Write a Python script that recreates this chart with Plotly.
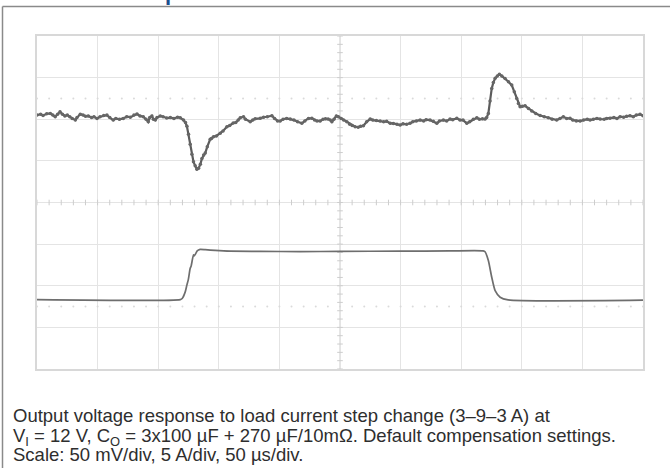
import numpy as np
import plotly.graph_objects as go

# ---- data ----
# Output voltage deviation (AC coupled), time in microseconds, value in mV
v_time = [0, 3, 5, 8, 11, 13, 15, 17, 19, 21, 23, 25, 27, 29, 31.6, 33, 35.7, 38, 40, 42.3,
          45, 47, 49.5, 52, 55, 57.7, 60, 62.9, 65, 68, 71.2, 74, 77, 80, 82.5, 85, 87.7, 90,
          91.8, 93, 94.8, 96, 97.6, 99, 101.7, 104, 107, 110, 113, 116, 118.2, 120.9, 122.5,
          123.7, 125, 126.4, 127.8, 129.1, 130.5, 131.9, 133.3, 134.8, 136.1, 137.5, 138.8,
          140.5, 142.9, 144, 145.6, 148, 151.2, 153.5, 156.7, 159, 161.9, 164, 166, 167.7,
          170.4, 172, 175.9, 178, 180, 184.2, 187, 190, 193.8, 196, 198.5, 200.6, 203, 206,
          208.9, 212, 215, 218.5, 221, 224, 226.8, 229, 231, 233.6, 236, 238, 240.2, 242,
          243.3, 245, 247, 248.7, 251, 253, 255.6, 258, 260, 262.5, 265, 267, 269.3, 272,
          274.9, 277, 280, 283.1, 286, 288.5, 291.4, 294, 297, 299.6, 302, 305, 307.8, 310,
          313, 316.1, 319, 321, 324.3, 327, 329.9, 332, 335.3, 338, 340.8, 343, 346.4, 349,
          351.5, 354.6, 357, 360, 362.9, 365, 367.5, 369.7, 371, 372.4, 373.8, 375.2, 376.5,
          378, 379.8, 381.5, 383.5, 386.2, 389, 391.7, 393.8, 395.8, 397.2, 398.6, 400.5,
          402.7, 405.5, 408.2, 411.5, 415.1, 418.5, 421.9, 425, 428.8, 431.5, 434.3, 437,
          439.8, 442, 445, 448.1, 451, 454, 456.3, 459, 462, 464.6, 468, 470, 472.8, 476,
          478.5, 481.1, 484, 486.5, 489.3, 492, 494.5, 497.6, 500]
v_mv = [5, 6, 4.5, 6.5, 7, 5, 3, 6, 9, 6, 4, 5, 3, 1, -1, 2, 6, 5, 3.5, 4,
        2, 3, 1, 3, 4.5, 5, 2, -1, 1, 0, 1, 3, 2.5, 5, 6.3, 4, 3, 0,
        -3, 2, 4, 0, -1, 2, 4, 3, 1.5, 2, 1, 2.5, 1.8, -1, -4,
        -8.5, -18, -30, -42, -51, -56, -60, -59, -54, -47, -43, -40.6,
        -33, -24, -23, -21, -20, -16.9, -14, -9, -7.5, -4.6, -4, -1, 1.8,
        3, 0, -3, -1, 0.5, 1.1, 2.5, 3, 4.2, 1, -2, -2.2, 0, 1,
        0.2, -1, -3, -4.9, -2, 1, 1.1, -1, -2, -2.2, 0, 0.5, 0.2, -1,
        -3, 0, 4, 3, 1, -1, -3, -6, -7.5, -9, -9.5, -8.5, -7.8, -3,
        0.2, -1, -1.5, -2.2, -3, -2.5, -4.9, -5, -6, -7, -5.5, -6, -4.9, -3,
        -2, -1, -2, -0.5, -1, -2.5, -4.9, -2, -1, -2, 0.2, -0.5, 1.1, -1,
        -1, -4.9, -3, 0, 1.8, 0, 0.5, 0.2, 2, 7, 22, 37, 44,
        49.2, 52, 54, 52, 49, 45, 41, 33, 25, 19, 15, 15.5,
        16.2, 13, 9.9, 7, 4.5, 3, 1.8, 0, -1, 1, 3, 1,
        1.1, -1, -2, -2.2, -1, 0, -1, 0, 1, 0.2, 0, 1, 1.1, 2,
        1, 3, 2.5, 3.5, 4.2, 3, 5, 5.9, 4.2]

# Load current, time in microseconds, value in A (3 A -> 9 A -> 3 A step)
i_time = [0, 118.2, 119.8, 122.3, 123.7, 124.8, 126.4, 127.2, 129.1, 129.7, 132.2, 133.3,
          134.7, 138.8, 147.0, 159.4, 184.2, 217.2, 250.2, 299.6, 340.8, 368.1, 369.7,
          372.4, 375.2, 378.0, 382.1, 388.7, 500]
i_amp = [3.0, 3.0, 3.14, 3.93, 4.77, 5.37, 6.77, 7.05, 8.37, 8.25, 8.85, 8.97,
         9.03, 9.0, 8.91, 8.82, 8.8, 8.77, 8.8, 8.82, 8.85, 8.85, 8.75,
         7.69, 5.69, 4.08, 3.29, 2.97, 2.93]

# Scope scale: 50 us/div, 50 mV/div, 5 A/div ; 10 x 8 divisions
t_div, v_div, i_div = 50, 50, 5
n_xdiv, n_ydiv = 10, 8
v_range = [-300, 100]
i_range = [-5.333, 34.667]

caption = [
    "Output voltage response to load current step change (3–9–3 A) at",
    "V<sub>I</sub> = 12 V, C<sub>O</sub> = 3x100 µF + 270 µF/10mΩ. Default compensation settings.",
    "Scale: 50 mV/div, 5 A/div, 50 µs/div.",
]
heading_fragment = "p"

# ---- figure ----
ML, MR, MT, MB = 37, 27, 36, 99
W, H = 670, 468
PW, PH = W - ML - MR, H - MT - MB


def px2x(px):
    return (px - ML) / PW


def py2y(py):
    return (H - MB - py) / PH


fig = go.Figure()

grid_col = "#e4e4e4"
center_col = "#cdcdcd"
t_max = t_div * n_xdiv
v_center = (v_range[0] + v_range[1]) / 2

# centre cross-hair minor ticks
tick_t = np.arange(0, t_max + 0.1, t_div / 5)
fig.add_trace(go.Scatter(x=tick_t, y=[v_center] * len(tick_t), mode="markers",
                         marker=dict(symbol="line-ns", size=4, line=dict(width=1, color=center_col)),
                         hoverinfo="skip", showlegend=False))
tick_v = np.arange(v_range[0], v_range[1] + 0.1, v_div / 5)
fig.add_trace(go.Scatter(x=[t_max / 2] * len(tick_v), y=tick_v, mode="markers",
                         marker=dict(symbol="line-ew", size=4, line=dict(width=1, color=center_col)),
                         hoverinfo="skip", showlegend=False))
# faint dotted level rows
for lvl in (v_range[1] - 1.5 * v_div, v_range[0] + 1.5 * v_div):
    fig.add_trace(go.Scatter(x=tick_t, y=[lvl] * len(tick_t), mode="markers",
                             marker=dict(symbol="circle", size=2, color="#dadada"),
                             hoverinfo="skip", showlegend=False))

# current trace
fig.add_trace(go.Scatter(x=i_time, y=i_amp, yaxis="y2", mode="lines",
                         line=dict(color="#6e6e6e", width=1.7, shape="spline", smoothing=0.6),
                         hoverinfo="skip", showlegend=False))
# voltage trace
fig.add_trace(go.Scatter(x=v_time, y=v_mv, mode="lines+markers",
                         line=dict(color="#5c5c5c", width=2.2),
                         marker=dict(size=3.5, color="#666666"),
                         hoverinfo="skip", showlegend=False))

shapes = [
    dict(type="line", xref="x", yref="paper", x0=t_max / 2, x1=t_max / 2, y0=0, y1=1,
         line=dict(color=center_col, width=1), layer="below"),
    dict(type="line", xref="paper", yref="y", x0=0, x1=1, y0=v_center, y1=v_center,
         line=dict(color=center_col, width=1), layer="below"),
    # outer page frame (left and top)
    dict(type="line", xref="paper", yref="paper", x0=px2x(2.5), x1=px2x(2.5),
         y0=py2y(470), y1=py2y(6.5), line=dict(color="#8a8a8a", width=1.5)),
    dict(type="line", xref="paper", yref="paper", x0=px2x(2.5), x1=px2x(675),
         y0=py2y(6.5), y1=py2y(6.5), line=dict(color="#8a8a8a", width=1.5)),
]

# caption: one text block; base size sets the tight line pitch, inner span sets glyph size
line_pitch = 19.7
glyph_size = 18.5
caption_html = "<br>".join(
    f"<span style='font-size:{glyph_size}px'>{line}</span>" for line in caption)
annotations = [
    dict(text=caption_html, xref="paper", yref="paper", x=px2x(11), y=py2y(435.0),
         xanchor="left", yanchor="middle", showarrow=False, align="left",
         font=dict(family="Liberation Sans, Arial, sans-serif", size=line_pitch / 1.3,
                   color="#2e2e2e")),
    dict(text="<b>" + heading_fragment + "</b>", xref="paper", yref="paper",
         x=px2x(171.5), y=py2y(7), xanchor="center", yanchor="bottom", showarrow=False,
         font=dict(family="Liberation Sans, Arial, sans-serif", size=22, color="#1d4e8c")),
]

fig.update_layout(
    width=W, height=H,
    margin=dict(l=ML, r=MR, t=MT, b=MB, pad=0),
    paper_bgcolor="white", plot_bgcolor="white",
    showlegend=False,
    xaxis=dict(range=[0, t_max], dtick=t_div, showgrid=True, gridcolor=grid_col, gridwidth=1,
               showticklabels=False, ticks="", zeroline=False, showline=True, mirror=True,
               linecolor="#d8d8d8", linewidth=2, fixedrange=True),
    yaxis=dict(range=v_range, dtick=v_div, showgrid=True, gridcolor=grid_col, gridwidth=1,
               showticklabels=False, ticks="", zeroline=False, showline=True, mirror=True,
               linecolor="#d8d8d8", linewidth=2, fixedrange=True),
    yaxis2=dict(range=i_range, overlaying="y", showgrid=False, showticklabels=False,
                ticks="", zeroline=False, showline=False, fixedrange=True),
    shapes=shapes,
    annotations=annotations,
)

fig.write_html("out.html", config={"displayModeBar": False},
               post_script="document.body.style.margin='0';"
                           "document.body.style.overflow='hidden';"
                           "document.documentElement.style.overflow='hidden';")
